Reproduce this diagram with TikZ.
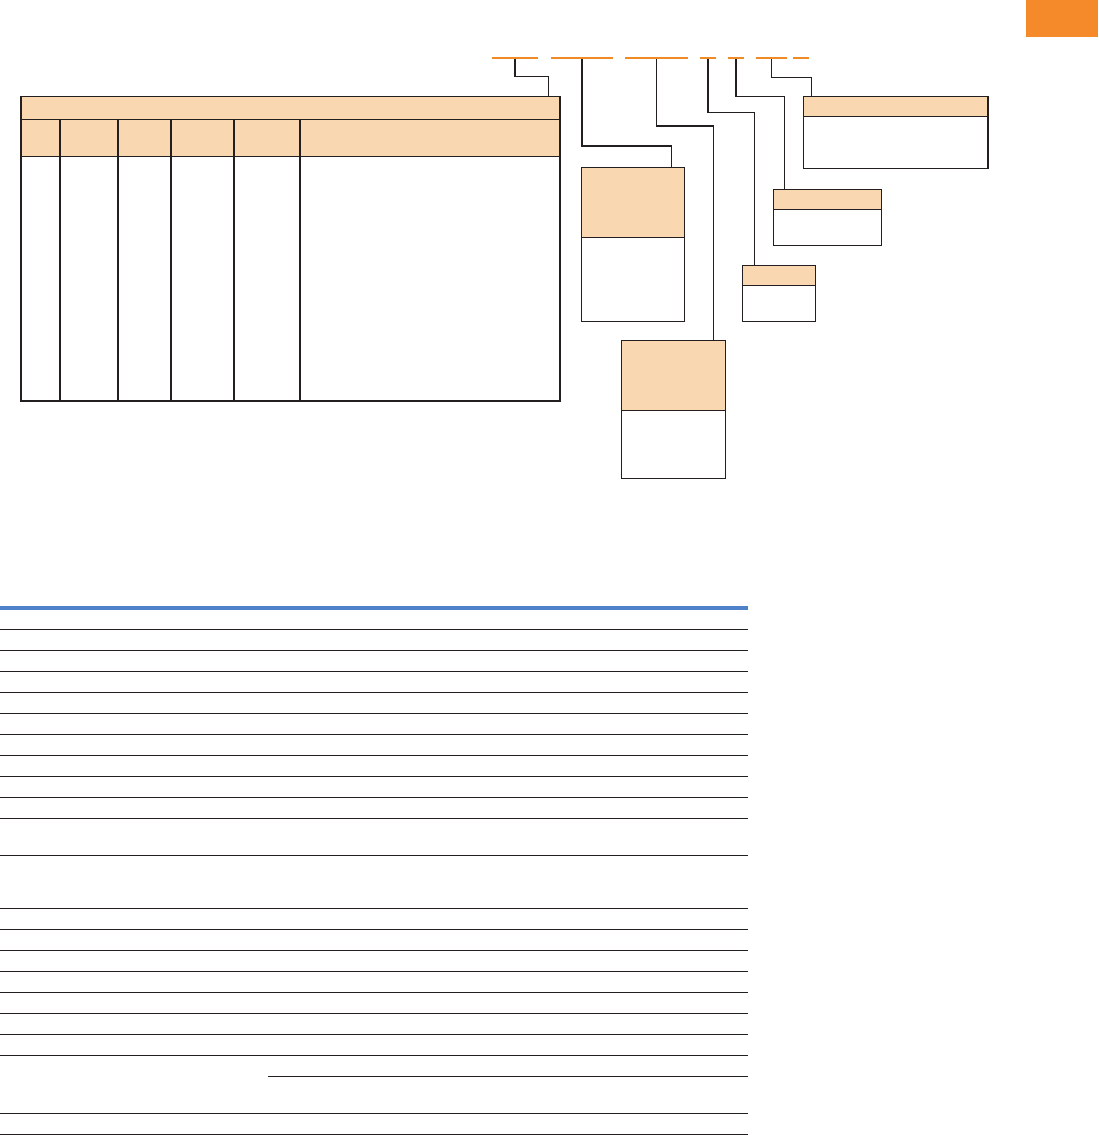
\documentclass[tikz,border=0pt]{standalone}
\definecolor{ink}{HTML}{231F20}
\definecolor{peach}{HTML}{F9D8B1}
\definecolor{dashor}{HTML}{F08A24}
\definecolor{tabor}{HTML}{F58A2B}
\definecolor{rule}{HTML}{4E81C9}
\begin{document}
\begin{tikzpicture}[x=1pt,y=-1pt,
  ln/.style={draw=ink, line width=1.2pt},
  rowline/.style={draw=ink, line width=1.1pt},
  boxn/.style={draw=ink, line width=1.2pt, anchor=north west, inner sep=0pt, outer sep=0pt},
  hdr/.style={boxn, fill=peach},
  dashn/.style={fill=dashor, inner sep=0pt, outer sep=0pt, minimum height=2.2pt, anchor=west}]
\useasboundingbox (0,0) rectangle (1098,1135);
% orange tab
\fill[tabor] (1026,0) rectangle (1098,36.7);
% code dashes
\node[dashn, minimum width=46pt] (d1) at (492,57.7) {};
\node[dashn, minimum width=62pt] (d2) at (551,57.7) {};
\node[dashn, minimum width=63pt] (d3) at (625,57.7) {};
\node[dashn, minimum width=16pt] (d4) at (700,57.7) {};
\node[dashn, minimum width=16pt] (d5) at (728,57.7) {};
\node[dashn, minimum width=31pt] (d6) at (756,57.7) {};
\node[dashn, minimum width=16pt] (d7) at (793,57.7) {};
% big table
\node[hdr, minimum width=539pt, minimum height=60pt] (Th) at (21,96.5) {};
\node[boxn, minimum width=539pt, minimum height=304.5pt] (T) at (21,96.5) {};
\draw[ln] (21,119.3) -- (560,119.3);
\foreach \cx in {60,118,171,234,300} \draw[ln] (\cx,119.3) -- (\cx,401);
% box A
\node[boxn, minimum width=103pt, minimum height=154pt] (A) at (581.3,167.3) {};
\node[hdr, minimum width=103pt, minimum height=70pt] (Ah) at (581.3,167.3) {};
% box B
\node[boxn, minimum width=104pt, minimum height=138pt] (B) at (621.3,340.3) {};
\node[hdr, minimum width=104pt, minimum height=70pt] (Bh) at (621.3,340.3) {};
% box C
\node[boxn, minimum width=73pt, minimum height=56pt] (C) at (742.3,265.3) {};
\node[hdr, minimum width=73pt, minimum height=20pt] (Ch) at (742.3,265.3) {};
% box D
\node[boxn, minimum width=108pt, minimum height=56pt] (D) at (773.3,189.3) {};
\node[hdr, minimum width=108pt, minimum height=20pt] (Dh) at (773.3,189.3) {};
% box E
\node[boxn, minimum width=184.7pt, minimum height=71.6pt] (E) at (803.3,96.7) {};
\node[hdr, minimum width=184.7pt, minimum height=20pt] (Eh) at (803.3,96.7) {};
% connector end points
\coordinate (t1) at (548.3,96.5);
\coordinate (a1) at (671.3,167.3);
\coordinate (b1) at (713.3,340.3);
\coordinate (c1) at (754.3,265.3);
\coordinate (e1) at (784.3,189.3);
\coordinate (f1) at (811.3,96.7);
\draw[ln] (d1.south) -- ++(0,17.5) -| (t1);
\draw[ln] (d2.south) -- ++(0,87.2) -| (a1);
\draw[ln] (d3.south) -- ++(0,67.2) -| (b1);
\draw[ln] (d4.south) -- ++(0,53.5) -| (c1);
\draw[ln] (d5.south) -- ++(0,37.9) -| (e1);
\draw[ln] (d6.south) -- ++(0,18.5) -| (f1);
% lower table
\fill[rule] (0,605.7) rectangle (748,609.7);
\foreach \ry in {629.3,650.3,671.3,692.3,713.3,734.3,755.3,776.3,797.3,818.3,855.3,908.3,929.3,950.3,971.3,992.3,1013.3,1034.3,1055.3,1113.3,1134.3}
  \draw[rowline] (0,\ry) -- (748,\ry);
\draw[rowline] (268,1076.3) -- (748,1076.3);
\end{tikzpicture}
\end{document}
